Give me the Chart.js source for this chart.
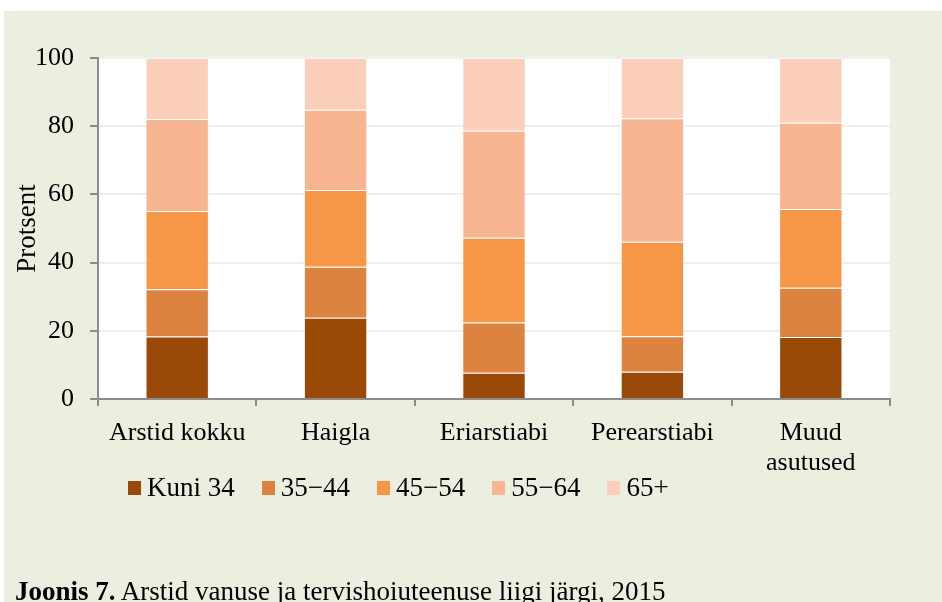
<!DOCTYPE html>
<html>
<head>
<meta charset="utf-8">
<script src="https://cdn.jsdelivr.net/npm/chart.js@4"></script>
<style>
  html, body { margin: 0; padding: 0; background: #fff; }
  body { width: 942px; height: 602px; overflow: hidden; position: relative; }
  #panel { position: absolute; left: 4px; top: 11px; width: 938px; height: 591px; background: #EBEFDF; }
  #wrap { position: absolute; left: 0; top: 0; width: 938px; height: 591px; }
  #legend { position: absolute; left: 124px; top: 461px; display: flex; align-items: center;
            font: 27px 'Liberation Serif', 'Times New Roman', serif; color: #000; }
  #legend span.item { display: flex; align-items: center; margin-right: 27px; }
  #legend span.box { display: inline-block; width: 13px; height: 14px; margin-right: 6px; }
  #caption { position: absolute; left: 11px; top: 565px; font: 27px/30px 'Liberation Serif', 'Times New Roman', serif; color: #000; white-space: nowrap; }
</style>
</head>
<body>
<div id="panel">
  <div id="wrap"><canvas id="chart"></canvas></div>
  <div id="legend"></div>
  <div id="caption"><b>Joonis 7.</b> Arstid vanuse ja tervishoiuteenuse liigi järgi, 2015</div>
</div>
<script>
const categories = ["Arstid kokku", "Haigla", "Eriarstiabi", "Perearstiabi", ["Muud", "asutused"]];
const ageGroups = ["Kuni 34", "35\u221244", "45\u221254", "55\u221264", "65+"];
const colors = ["#9A4906", "#DC8340", "#F69747", "#F8B592", "#FBCFBA"];

// percent of doctors by age group in each category
const kuni34 = [18.3, 23.8, 7.7, 8.0, 18.2];
const age35to44 = [13.9, 15.0, 14.7, 10.4, 14.4];
const age45to54 = [22.9, 22.5, 24.9, 27.7, 23.1];
const age55to64 = [27.0, 23.5, 31.4, 36.2, 25.3];
const age65plus = [17.9, 15.2, 21.3, 17.7, 19.0];

const yTicks = [0, 20, 40, 60, 80, 100];

const series = [kuni34, age35to44, age45to54, age55to64, age65plus];

const plotBg = {
    id: "plotBg",
    beforeDraw(chart) {
        const a = chart.chartArea;
        const ctx = chart.ctx;
        ctx.save();
        ctx.fillStyle = "#ffffff";
        ctx.fillRect(a.left, a.top, a.right - a.left, a.bottom - a.top);
        ctx.restore();
    }
};

Chart.defaults.font.family = "'Liberation Serif', 'Times New Roman', serif";
Chart.defaults.font.size = 26;
Chart.defaults.color = "#000";

const ctx = document.getElementById("chart").getContext("2d");
new Chart(ctx, {
    type: "bar",
    data: {
        labels: categories,
        datasets: series.map((d, i) => ({
            label: ageGroups[i],
            data: d,
            backgroundColor: colors[i],
            borderColor: "rgba(255,255,255,0.35)",
            borderWidth: 1,
            categoryPercentage: 1,
            barPercentage: 0.4
        }))
    },
    options: {
        responsive: true,
        maintainAspectRatio: false,
        animation: false,
        layout: { padding: { left: 0, top: 47, right: 52, bottom: 123 } },
        plugins: { legend: { display: false }, tooltip: { enabled: false } },
        scales: {
            x: {
                stacked: true,
                afterFit: s => { s.height = 80; },
                border: { color: "#8C8C8C", width: 2 },
                grid: { display: true, offset: true, drawOnChartArea: false, drawTicks: true,
                        tickLength: 7, tickColor: "#8C8C8C", lineWidth: 2 },
                ticks: { padding: 12, maxRotation: 0, autoSkip: false, font: { lineHeight: 1.15 } }
            },
            y: {
                stacked: true,
                min: 0,
                max: 100,
                afterFit: s => { s.width = 94; },
                afterBuildTicks: s => { s.ticks = yTicks.map(v => ({ value: v })); },
                border: { color: "#8C8C8C", width: 2 },
                grid: { color: "#EFEFEF", lineWidth: 2, tickColor: "#8C8C8C", tickLength: 8 },
                ticks: { padding: 16 },
                title: { display: true, text: "Protsent", font: { size: 27 }, padding: { top: 8, bottom: 0 } }
            }
        }
    },
    plugins: [plotBg]
});

const legend = document.getElementById("legend");
ageGroups.forEach((g, i) => {
    const item = document.createElement("span");
    item.className = "item";
    const box = document.createElement("span");
    box.className = "box";
    box.style.background = colors[i];
    item.appendChild(box);
    item.appendChild(document.createTextNode(g));
    legend.appendChild(item);
});
</script>
</body>
</html>
